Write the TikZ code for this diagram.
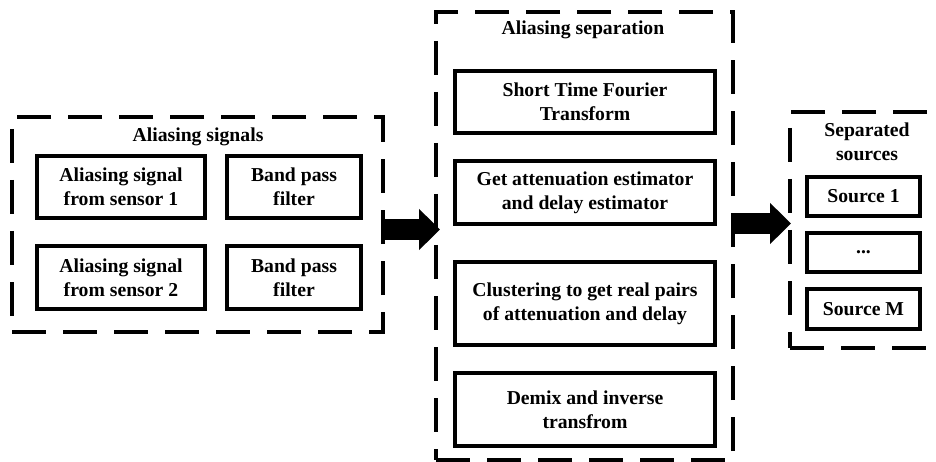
\documentclass[tikz,border=0pt]{standalone}
\usepackage{fontspec}
\setmainfont{Liberation Serif}
\usetikzlibrary{arrows.meta}
\begin{document}
\begin{tikzpicture}[x=1pt,y=-1pt,
  every node/.style={font=\fontsize{19.7}{23.6}\selectfont\bfseries, align=center, inner sep=0pt},
  group/.style={draw, line width=4.5pt, dash pattern=on 34pt off 17pt, rectangle},
  stepbox/.style={draw, line width=3.6pt, rectangle},
  bigarrow/.style={line width=21pt, -{Triangle[length=21pt,width=40pt]}}]
\useasboundingbox (0,0) rectangle (936,462);
\clip (0,0) rectangle (936,462);
% left group
\node[group, minimum width=371pt, minimum height=215pt] (G1) at (197.5,224.5) {};
\node (T1) at (198,137) {Aliasing signals};
\node[stepbox, minimum width=168pt, minimum height=62pt] (A1) at (121,187) {Aliasing signal\\from sensor 1};
\node[stepbox, minimum width=134pt, minimum height=62pt] (B1) at (294,187) {Band pass\\filter};
\node[stepbox, minimum width=168pt, minimum height=63pt] (A2) at (121,277.5) {Aliasing signal\\from sensor 2};
\node[stepbox, minimum width=134pt, minimum height=63pt] (B2) at (294,277.5) {Band pass\\filter};
% middle group
\node[group, minimum width=297pt, minimum height=448pt] (G2) at (584.5,236) {};
\node (T2) at (583,30) {Aliasing separation};
\node[stepbox, minimum width=260pt, minimum height=62pt] (S1) at (585,102) {Short Time Fourier\\Transform};
\node[stepbox, minimum width=260pt, minimum height=63pt] (S2) at (585,192.5) {Get attenuation estimator\\and delay estimator};
\node[stepbox, minimum width=260pt, minimum height=83pt] (S3) at (585,303.5) {Clustering to get real pairs\\of attenuation and delay};
\node[stepbox, minimum width=260pt, minimum height=73pt] (S4) at (585,409.5) {Demix and inverse\\transfrom};
% right group
\node[group, minimum width=180pt, minimum height=236pt] (G3) at (880,230) {};
\node (T3) at (867,141.5) {Separated\\sources};
\node[stepbox, minimum width=113pt, minimum height=39pt] (R1) at (863.5,196.5) {Source 1};
\node[stepbox, minimum width=113pt, minimum height=39pt] (R2) at (863.5,252.5) {...};
\node[stepbox, minimum width=113pt, minimum height=40pt] (R3) at (863.5,309) {Source M};
% arrows
\coordinate (a1s) at (G1.east |- 0,229.5);
\coordinate (a1e) at (440,229.5);
\coordinate (a2s) at (G2.east |- 0,223.5);
\coordinate (a2e) at (791,223.5);
\draw[bigarrow] (a1s) -- (a1e);
\draw[bigarrow] (a2s) -- (a2e);
\end{tikzpicture}
\end{document}
